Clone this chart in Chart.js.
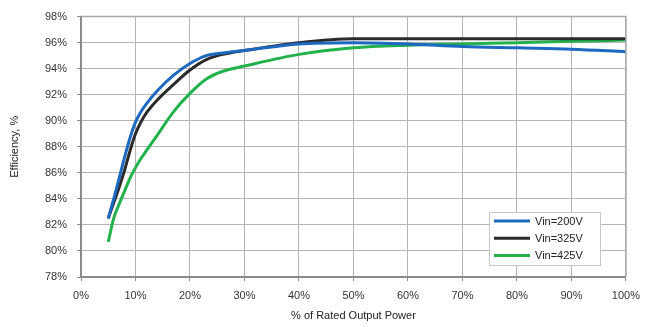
<!DOCTYPE html>
<html>
<head>
<meta charset="utf-8">
<script src="https://cdn.jsdelivr.net/npm/chart.js@4"></script>
<style>
  html, body { margin: 0; padding: 0; background: #fff; }
  #wrap { width: 648px; height: 327px; }
</style>
</head>
<body>
<div id="wrap"><canvas id="chart" width="648" height="327"></canvas></div>
<script>
// Load points, % of rated output power
const loadPct = [5, 6, 7, 8, 9, 10, 11, 12, 14, 17, 20, 23, 26, 30, 40, 50, 60, 70, 80, 90, 100];

// Efficiency, % for each input voltage
const eff200 = [82.5, 84.0, 85.6, 87.2, 88.7, 89.9, 90.7, 91.3, 92.3, 93.5, 94.4, 95.0, 95.2, 95.4, 95.9, 96.0, 95.9, 95.7, 95.6, 95.5, 95.3];
const eff325 = [82.5, 83.7, 84.9, 86.2, 87.7, 89.0, 89.9, 90.6, 91.6, 92.8, 93.9, 94.7, 95.1, 95.4, 96.0, 96.3, 96.3, 96.3, 96.3, 96.3, 96.3];
const eff425 = [80.7, 82.5, 83.6, 84.6, 85.6, 86.4, 87.1, 87.7, 88.9, 90.7, 92.1, 93.2, 93.8, 94.2, 95.1, 95.6, 95.8, 95.9, 96.0, 96.1, 96.2];

const seriesNames = ['Vin=200V', 'Vin=325V', 'Vin=425V'];
const seriesColors = ['#1d68c0', '#2b2b2b', '#22b24c'];

const toPoints = (ys) => ys.map((y, i) => ({ x: loadPct[i], y: y }));

// Legend drawn as a boxed panel inside the plot area (bottom right)
const insideLegend = {
  id: 'insideLegend',
  afterDraw(chart) {
    const ctx = chart.ctx;
    const x = 489, y = 212, w = 111, h = 53;
    ctx.save();
    ctx.fillStyle = '#ffffff';
    ctx.fillRect(x, y, w, h);
    ctx.strokeStyle = '#c8c8c8';
    ctx.lineWidth = 1;
    ctx.strokeRect(x + 0.5, y + 0.5, w, h);
    ctx.font = '11px "Liberation Sans", Arial, sans-serif';
    ctx.textBaseline = 'middle';
    chart.data.datasets.forEach((ds, i) => {
      const rowY = y + 9 + i * 17.3;
      ctx.strokeStyle = ds.borderColor;
      ctx.lineWidth = 3;
      ctx.beginPath();
      ctx.moveTo(x + 5, rowY);
      ctx.lineTo(x + 41, rowY);
      ctx.stroke();
      ctx.fillStyle = '#222';
      ctx.fillText(ds.label, x + 46, rowY + 0.5);
    });
    ctx.restore();
  }
};

new Chart(document.getElementById('chart'), {
  type: 'line',
  data: {
    datasets: [eff200, eff325, eff425].map((ys, i) => ({
      label: seriesNames[i],
      data: toPoints(ys),
      borderColor: seriesColors[i],
      backgroundColor: seriesColors[i],
      borderWidth: 3,
      pointRadius: 0,
      cubicInterpolationMode: 'monotone',
      fill: false
    }))
  },
  options: {
    responsive: false,
    animation: false,
    devicePixelRatio: 1,
    layout: { padding: { top: 15, right: 22, left: 0, bottom: 0 } },
    plugins: {
      legend: { display: false },
      tooltip: { enabled: false }
    },
    scales: {
      x: {
        type: 'linear',
        min: 0,
        max: 100,
        ticks: {
          stepSize: 10,
          padding: 8,
          color: '#333',
          font: { family: '"Liberation Sans", Arial, sans-serif', size: 11 },
          callback: (v) => v + '%'
        },
        grid: { color: '#b4b4b4', lineWidth: 1, drawTicks: true, tickLength: 4, tickColor: '#888' },
        border: { color: '#8a8a8a', width: 2 },
        title: {
          display: true,
          text: '% of Rated Output Power',
          color: '#222',
          font: { family: '"Liberation Sans", Arial, sans-serif', size: 11 },
          padding: { top: 6 }
        },
        afterFit: (scale) => { scale.height = 50; }
      },
      y: {
        min: 78,
        max: 98,
        ticks: {
          stepSize: 2,
          padding: 10,
          color: '#333',
          font: { family: '"Liberation Sans", Arial, sans-serif', size: 11 },
          callback: (v) => v + '%'
        },
        grid: { color: '#b4b4b4', lineWidth: 1, drawTicks: true, tickLength: 4, tickColor: '#888' },
        border: { color: '#8a8a8a', width: 2 },
        title: {
          display: true,
          text: 'Efficiency, %',
          color: '#222',
          font: { family: '"Liberation Sans", Arial, sans-serif', size: 11 },
          padding: { top: 8, bottom: 14 }
        },
        afterFit: (scale) => { scale.width = 81; }
      }
    }
  },
  plugins: [insideLegend, {
    id: 'plotFrame',
    afterDatasetsDraw(chart) {
      const a = chart.chartArea, ctx = chart.ctx;
      ctx.save();
      ctx.strokeStyle = '#a8a8a8';
      ctx.lineWidth = 1.5;
      ctx.beginPath();
      ctx.moveTo(a.left, a.top);
      ctx.lineTo(a.right, a.top);
      ctx.lineTo(a.right, a.bottom);
      ctx.stroke();
      ctx.restore();
    }
  }]
});
</script>
</body>
</html>
